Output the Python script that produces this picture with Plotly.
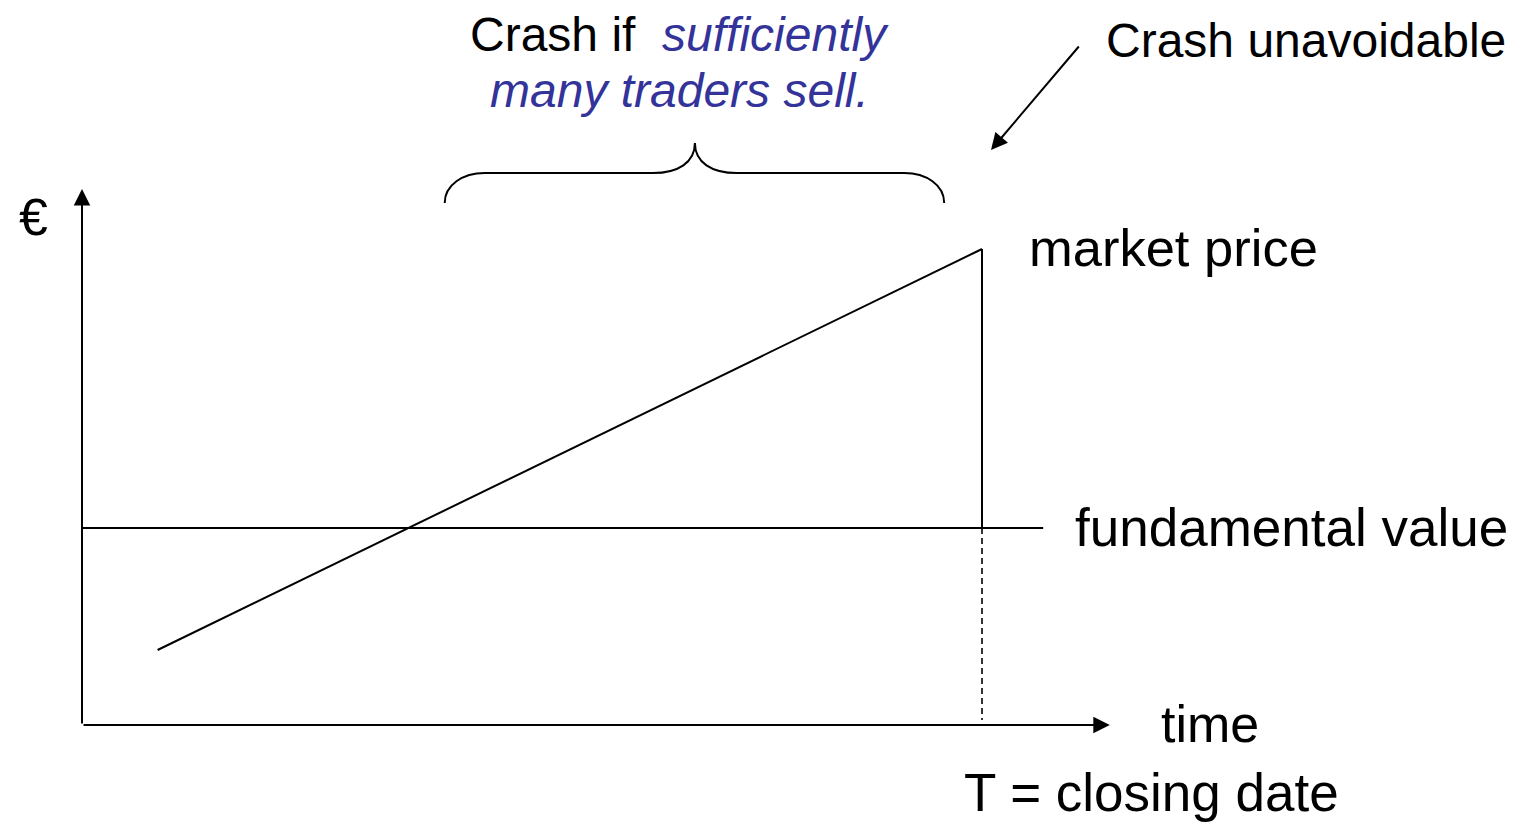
import plotly.graph_objects as go

# ---------------- data (diagram units: time, price) ----------------
closing_time = [10.0]
market_time = [0.84, 10.0]
market_price = [1.875, 11.9]
fundamental_time = [0.0, 10.68]
fundamental_price = [4.925, 4.925]
axis_time_end = [11.42]
axis_price_end = [13.4]
brace_time = [4.03, 6.81, 9.58]          # left end, tip, right end
brace_price = [13.05, 13.8, 14.55]       # ends, straight part, tip
crash_arrow_time = [11.09, 10.1]         # tail, head
crash_arrow_price = [17.0, 14.375]

labels = {
    "euro": "€",
    "market": "market price",
    "fund": "fundamental value",
    "time": "time",
    "closing": "T = closing date",
    "crash1": "Crash if\u00a0\u00a0<i><span style='color:#333399'>sufficiently</span></i>",
    "crash2": "<i><span style='color:#333399'>many traders sell.</span></i>",
    "unavoid": "Crash unavoidable",
}

# ---------------- scales ----------------
W, H = 1523, 822
OX, OY = 82, 725     # pixel of origin
SX, SY = 90.0, 40.0  # px per unit
x_range = [-OX / SX, (W - OX) / SX]
y_range = [-(H - OY) / SY, OY / SY]

def dx(px):
    return px / SX

def dy(py):
    return py / SY

FONT = "Liberation Sans, Arial, sans-serif"
LW = 2.0

fig = go.Figure()

# market price line
fig.add_trace(go.Scatter(x=market_time, y=market_price, mode="lines",
                         line=dict(color="black", width=LW), hoverinfo="skip"))
# fundamental value line
fig.add_trace(go.Scatter(x=fundamental_time, y=fundamental_price, mode="lines",
                         line=dict(color="black", width=LW), hoverinfo="skip"))
# vertical crash at T (solid above fundamental)
fig.add_trace(go.Scatter(x=[closing_time[0], closing_time[0]],
                         y=[market_price[-1], fundamental_price[0]], mode="lines",
                         line=dict(color="black", width=LW), hoverinfo="skip"))
# dashed below fundamental
fig.add_trace(go.Scatter(x=[closing_time[0], closing_time[0]],
                         y=[fundamental_price[0], dy(5)], mode="lines",
                         line=dict(color="black", width=1.6, dash="6px,4px"),
                         hoverinfo="skip"))

# axes with arrowheads
arrow_common = dict(xref="x", yref="y", axref="x", ayref="y", text="",
                    showarrow=True, arrowhead=2, arrowsize=1.65, arrowwidth=LW,
                    arrowcolor="black", standoff=0, startstandoff=0)
fig.add_annotation(x=0, y=axis_price_end[0], ax=0, ay=0, **arrow_common)
fig.add_annotation(x=axis_time_end[0], y=0, ax=0, ay=0, **arrow_common)
fig.add_annotation(x=crash_arrow_time[1], y=crash_arrow_price[1],
                   ax=crash_arrow_time[0], ay=crash_arrow_price[0], **arrow_common)

# brace
L, M, R = brace_time
yb, ys, yt = brace_price
cw = dx(40)   # end curve width
mw = dx(42)   # middle curve width
path = (
    f"M {L},{yb} "
    f"C {L},{yb + (ys - yb) * 0.6} {L + cw * 0.45},{ys} {L + cw},{ys} "
    f"L {M - mw},{ys} "
    f"C {M - mw * 0.4},{ys} {M},{ys + (yt - ys) * 0.35} {M},{yt} "
    f"C {M},{ys + (yt - ys) * 0.35} {M + mw * 0.4},{ys} {M + mw},{ys} "
    f"L {R - cw},{ys} "
    f"C {R - cw * 0.45},{ys} {R},{yb + (ys - yb) * 0.6} {R},{yb}"
)
fig.add_shape(type="path", path=path, xref="x", yref="y",
              line=dict(color="black", width=LW))

# texts
def label(text, x, y, size, xanchor="left", color="black"):
    fig.add_annotation(x=x, y=y, xref="x", yref="y", text=text, showarrow=False,
                       xanchor=xanchor, yanchor="middle",
                       font=dict(family=FONT, size=size, color=color))

label(labels["euro"], dx(33 - OX), dy(OY - 217), 52, xanchor="center")
label(labels["market"], closing_time[0] + dx(45), market_price[-1] + dy(2), 52.5)
label(labels["fund"], fundamental_time[-1] + dx(30), fundamental_price[0] + dy(1), 53)
label(labels["time"], axis_time_end[0] + dx(49), dy(1), 52)
label(labels["closing"], closing_time[0] + dx(-20), dy(OY - 792), 53)
label(labels["crash1"], brace_time[1] - dx(15), dy(OY - 34), 48, xanchor="center")
label(labels["crash2"], brace_time[1] - dx(15), dy(OY - 90), 48, xanchor="center")
label(labels["unavoid"], crash_arrow_time[0] + dx(24), dy(OY - 40), 48)

fig.update_layout(
    width=W, height=H,
    margin=dict(l=0, r=0, t=0, b=0),
    paper_bgcolor="white", plot_bgcolor="white",
    showlegend=False,
    xaxis=dict(range=x_range, visible=False, fixedrange=True),
    yaxis=dict(range=y_range, visible=False, fixedrange=True),
)

fig.write_html("out.html", config={"displayModeBar": False},
               post_script="document.body.style.margin='0';document.body.style.overflow='hidden';")
